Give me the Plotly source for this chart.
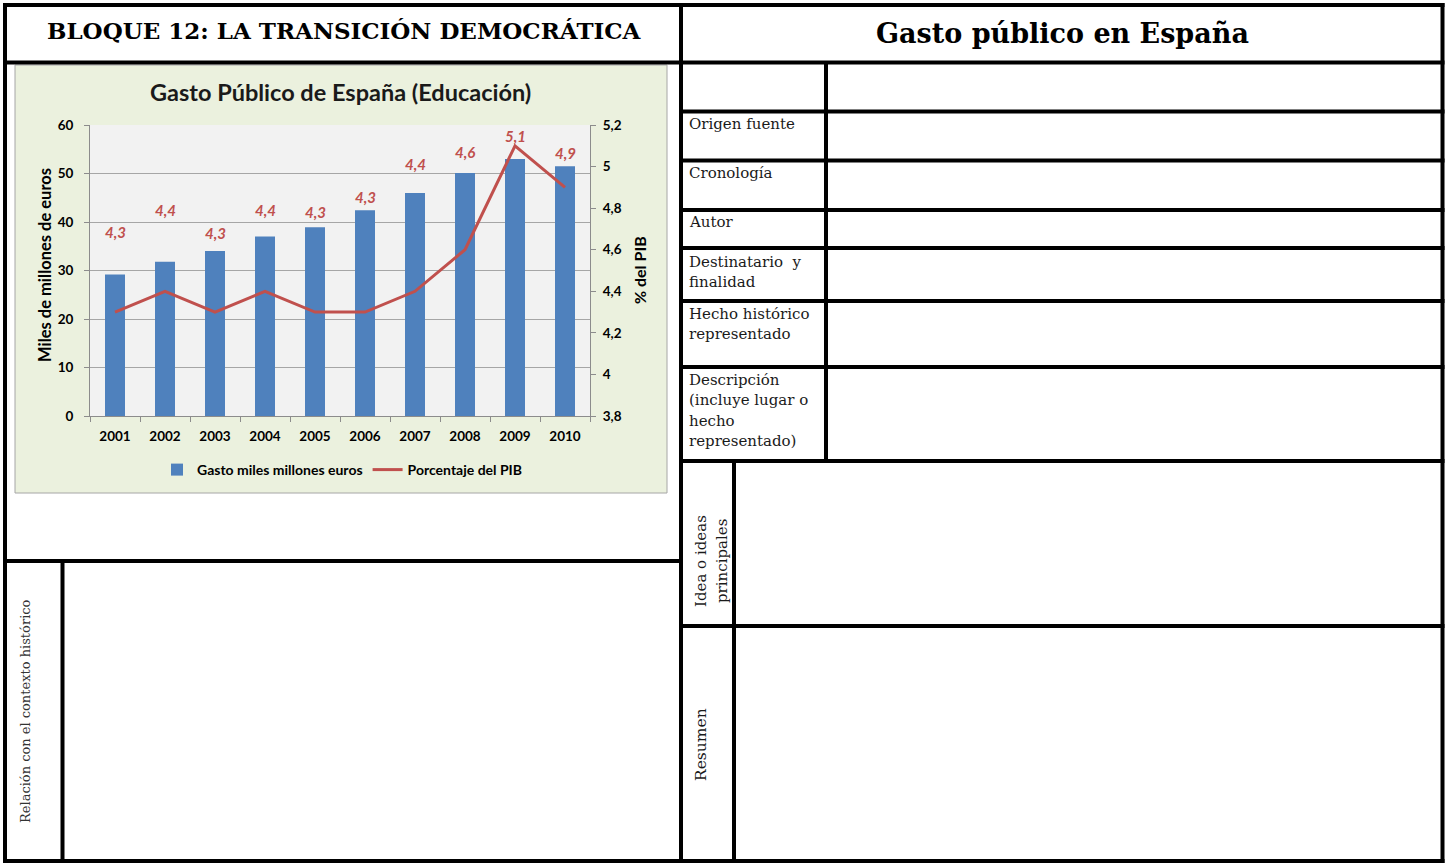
import plotly.graph_objects as go

# ---------------- data ----------------
years = ["2001", "2002", "2003", "2004", "2005", "2006", "2007", "2008", "2009", "2010"]
gasto = [29.2, 31.8, 34.0, 37.0, 38.9, 42.4, 46.0, 50.1, 53.0, 51.5]
pib = [4.3, 4.4, 4.3, 4.4, 4.3, 4.3, 4.4, 4.6, 5.1, 4.9]
pib_label_text = ["4,3", "4,4", "4,3", "4,4", "4,3", "4,3", "4,4", "4,6", "5,1", "4,9"]
left_ticks = [0, 10, 20, 30, 40, 50, 60]
right_ticks = [3.8, 4.0, 4.2, 4.4, 4.6, 4.8, 5.0, 5.2]

chart_title = "Gasto Público de España (Educación)"
left_axis_title = "Miles de millones de euros"
right_axis_title = "% del PIB"
series_names = ["Gasto miles millones euros", "Porcentaje del PIB"]

header_left = "BLOQUE 12: LA TRANSICIÓN DEMOCRÁTICA"
header_right = "Gasto público en España"
row_labels = [
    ["Origen fuente"],
    ["Cronología"],
    ["Autor"],
    ["Destinatario  y", "finalidad"],
    ["Hecho histórico", "representado"],
    ["Descripción", "(incluye lugar o", "hecho", "representado)"],
]
rot_idea = ["Idea o ideas", "principales"]
rot_resumen = "Resumen"
rot_relacion = "Relación con el contexto histórico"

# ---------------- layout helpers ----------------
W, H = 1446, 863
def X(px):
    return px / W
def Y(px):
    return 1 - px / H

# label heights (in % del PIB units) of the data labels, as placed in the original
label_pos = [4.685, 4.79, 4.68, 4.79, 4.78, 4.855, 5.01, 5.07, 5.147, 5.065]

CHART_FONT = "Lato"
SERIF = "DejaVu Serif"
GRAY = "#8C8C8C"
GRID = "#A6A6A6"

fig = go.Figure()
fig.add_trace(go.Bar(
    x=years, y=gasto, name=series_names[0], marker=dict(color="#4F81BD", line=dict(width=0)),
    yaxis="y", width=0.4,
))
fig.add_trace(go.Scatter(
    x=years, y=pib, name=series_names[1], mode="lines",
    line=dict(color="#C0504D", width=3), yaxis="y2",
))

shapes = []
# chart box and plot background
shapes.append(dict(type="rect", xref="paper", yref="paper", x0=X(15), x1=X(667), y0=Y(493), y1=Y(65),
                   fillcolor="#EBF1DE", line=dict(color="#A6A6A6", width=1), layer="below"))
shapes.append(dict(type="rect", xref="paper", yref="paper", x0=X(90), x1=X(590), y0=Y(416), y1=Y(125),
                   fillcolor="#F2F2F2", line=dict(width=0), layer="below"))

def hline(y, x0, x1):
    shapes.append(dict(type="line", xref="paper", yref="paper", x0=X(x0), x1=X(x1), y0=Y(y), y1=Y(y),
                       line=dict(color="black", width=4)))
def vline(x, y0, y1):
    shapes.append(dict(type="line", xref="paper", yref="paper", x0=X(x), x1=X(x), y0=Y(y0), y1=Y(y1),
                       line=dict(color="black", width=4)))

# outer frame
hline(5, 3, 1444.5)
hline(861, 3, 1444.5)
vline(5, 3, 863)
vline(1442.5, 3, 863)
# main dividers
hline(62.5, 3, 1444.5)
vline(681, 3, 863)
# left bottom section
hline(561, 3, 681)
vline(62.5, 561, 863)
# right table
vline(826, 62.5, 461)
for yy in [111.5, 160.5, 210, 248, 301, 367, 461, 626]:
    hline(yy, 681, 1444.5)
vline(734, 461, 863)

annotations = []
def text(x, y, s, size, family, xanchor="left", yanchor="middle", color="black", angle=0):
    annotations.append(dict(x=X(x), y=Y(y), xref="paper", yref="paper", text=s, showarrow=False,
                            xanchor=xanchor, yanchor=yanchor, textangle=angle,
                            font=dict(size=size, family=family, color=color)))

text(344, 31, "<b>" + header_left + "</b>", 23, SERIF, xanchor="center")
text(1062, 33, "<b>" + header_right + "</b>", 27, SERIF, xanchor="center")

row_tops = [124, 173, 222, 262, 314, 380]
for lines, top in zip(row_labels, row_tops):
    for i, ln in enumerate(lines):
        text(687, top + i * 20.3, ln, 15, SERIF, color="#1a1a1a")

text(701, 561, rot_idea[0], 15, SERIF, xanchor="center", angle=-90, color="#1a1a1a")
text(722, 561, rot_idea[1], 15, SERIF, xanchor="center", angle=-90, color="#1a1a1a")
text(701, 745, rot_resumen, 15.5, SERIF, xanchor="center", angle=-90, color="#1a1a1a")
text(25, 711, rot_relacion, 13, SERIF, xanchor="center", angle=-90, color="#333333")

# chart texts
text(340, 92, "<b>" + chart_title + "</b>", 23.5, CHART_FONT, xanchor="center", color="#1a1a1a")
text(45, 265, "<b>" + left_axis_title + "</b>", 16.5, CHART_FONT, xanchor="center", angle=-90)
text(640, 270, "<b>" + right_axis_title + "</b>", 16, CHART_FONT, xanchor="center", angle=-90)

# data labels for the PIB series (x given as category index)
for i, (lab, pos) in enumerate(zip(pib_label_text, label_pos)):
    annotations.append(dict(x=i, y=pos, xref="x", yref="y2", text="<b><i>" + lab + "</i></b>",
                            showarrow=False, xanchor="center", yanchor="middle",
                            font=dict(size=15, family=CHART_FONT, color="#C0504D")))

fig.update_layout(
    width=W, height=H,
    autosize=False,
    margin=dict(l=0, r=0, t=0, b=0, pad=0, autoexpand=False),
    paper_bgcolor="white",
    plot_bgcolor="rgba(0,0,0,0)",
    separators=",.",
    shapes=shapes,
    annotations=annotations,
    showlegend=True,
    legend=dict(orientation="h", x=X(342), y=Y(470), xanchor="center", yanchor="middle",
                bgcolor="rgba(0,0,0,0)", font=dict(size=14, family=CHART_FONT, color="black", weight="bold"),
                itemwidth=30, traceorder="normal"),
    xaxis=dict(domain=[X(90), X(590)], type="category", range=[-0.5, 9.5],
               showline=True, linecolor=GRAY, linewidth=1, ticks="outside", tickson="boundaries",
               ticklen=5, tickcolor=GRAY, showgrid=False, ticklabelstandoff=8,
               tickfont=dict(size=13.5, family=CHART_FONT, color="black", weight="bold")),
    yaxis=dict(domain=[Y(416), Y(125)], range=[0, 60], tickvals=left_ticks,
               showline=True, linecolor=GRAY, linewidth=1, ticks="outside", ticklen=5, tickcolor=GRAY,
               showgrid=True, gridcolor=GRID, gridwidth=1, zeroline=False, ticklabelstandoff=8,
               tickfont=dict(size=13.5, family=CHART_FONT, color="black", weight="bold")),
    yaxis2=dict(range=[3.8, 5.2], tickvals=right_ticks, overlaying="y", side="right", anchor="x",
                showline=True, linecolor=GRAY, linewidth=1, ticks="outside", ticklen=5, tickcolor=GRAY,
                showgrid=False, zeroline=False, ticklabelstandoff=4,
                tickfont=dict(size=13.5, family=CHART_FONT, color="black", weight="bold")),
)

fig.write_html(
    "out.html",
    config={"displayModeBar": False},
    post_script="document.body.style.margin='0';document.documentElement.style.overflow='hidden';",
)
